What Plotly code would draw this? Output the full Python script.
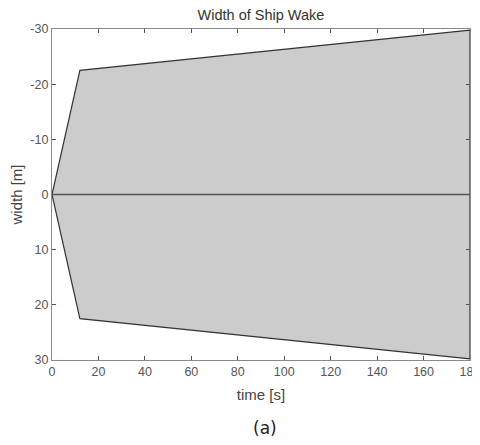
import plotly.graph_objects as go

# Data
time_s = [0, 12, 180]
half_width_m = [0, 22.5, 29.8]
center_time = [0, 180]
center_width = [0, 0]
x_ticks = [0, 20, 40, 60, 80, 100, 120, 140, 160, 180]
y_ticks = [-30, -20, -10, 0, 10, 20, 30]
y_tick_labels = ["-30", "-20", "-10", "0", "10", "20", "30"]

# Build polygon outline (upper edge then lower edge back)
poly_x = time_s + time_s[::-1]
poly_y = [-w for w in half_width_m] + half_width_m[::-1]

fig = go.Figure()
fig.add_trace(go.Scatter(
    x=poly_x, y=poly_y, mode="lines", fill="toself",
    fillcolor="#cccccc", line=dict(color="#333333", width=1.2),
    hoverinfo="skip", showlegend=False))
fig.add_trace(go.Scatter(
    x=center_time, y=center_width, mode="lines",
    line=dict(color="#555555", width=1.6), showlegend=False))

FONT = "Liberation Sans, Arial"
axis_common = dict(
    showgrid=False, zeroline=False, showline=True, linecolor="#8a8a8a",
    linewidth=1.2, mirror="ticks", ticks="inside", ticklen=4,
    tickcolor="#555555", tickwidth=1, automargin=False,
    ticklabeloverflow="allow",
    tickfont=dict(family=FONT, size=12.5, color="#555555"),
)

# page body has an 8px margin in the browser, so the figure is offset by 8px
W, H = 488, 429
plot_h = H - 21 - 77

fig.update_layout(
    width=W, height=H,
    margin=dict(l=44, r=26, t=21, b=77),
    paper_bgcolor="white", plot_bgcolor="white",
    title=dict(text="Width of Ship Wake", x=0.5, xref="paper", xanchor="center",
               y=1 - 7 / H, yref="container", yanchor="middle",
               font=dict(family=FONT, size=14.5, color="#333333")),
    xaxis=dict(range=[0, 180], tickvals=x_ticks,
               title=dict(text="time [s]", standoff=11,
                          font=dict(family=FONT, size=15, color="#444444")),
               **axis_common),
    yaxis=dict(range=[30, -30], tickvals=y_ticks, ticktext=y_tick_labels,
               title=dict(text="width [m]", standoff=6,
                          font=dict(family=FONT, size=15, color="#444444")),
               **axis_common),
    annotations=[dict(text="(a)", x=0.51, xref="paper", y=-68 / plot_h, yref="paper",
                      yanchor="middle", showarrow=False,
                      font=dict(family="DejaVu Sans", size=17, color="#222222"))],
)

fig.write_html("out.html")
